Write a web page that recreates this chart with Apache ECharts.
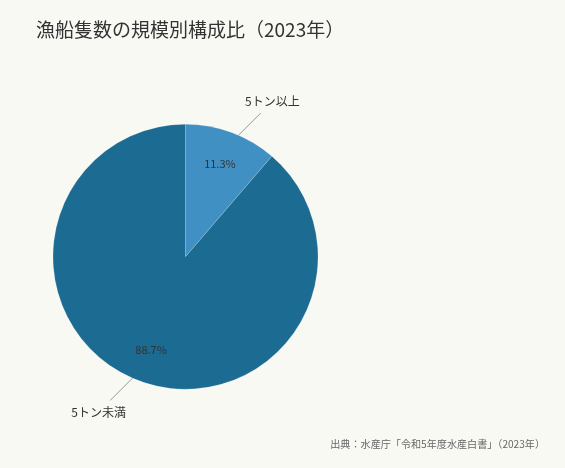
<!DOCTYPE html>
<html>
<head>
<meta charset="utf-8">
<script src="https://cdn.jsdelivr.net/npm/echarts@6/dist/echarts.min.js"></script>
<style>
html,body{margin:0;padding:0;background:#f9f9f4;}
#c{width:565px;height:468px;}
</style>
</head>
<body>
<div id="c"></div>
<script>
const categories = ['5トン以上', '5トン未満'];
const values = [11.3, 88.7];
const colors = ['#4190c4', '#1c6b92'];

const FONT = '"Noto Sans CJK JP", "Noto Sans", sans-serif';
const data = categories.map((c, i) => ({ name: c, value: values[i], itemStyle: { color: colors[i] } }));
const clearData = categories.map((c, i) => ({ name: c, value: values[i], itemStyle: { color: 'rgba(0,0,0,0)' } }));
const center = [185.5, 256.7];
const LEG = 35;   // diagonal leader length (px)
const GAP = 11.5; // text offset beyond leader end

const chart = echarts.init(document.getElementById('c'), null, { renderer: 'canvas' });
chart.setOption({
  backgroundColor: '#f9f9f4',
  animation: false,
  title: [{
    text: '漁船隻数の規模別構成比（2023年）',
    left: 31, top: 15,
    textStyle: { fontFamily: FONT, fontSize: 19, fontWeight: 'normal', color: '#333' }
  }, {
    text: '出典：水産庁「令和5年度水産白書」（2023年）',
    right: 15, top: 434,
    textStyle: { fontFamily: FONT, fontSize: 10.1, fontWeight: 'normal', color: '#666' }
  }],
  series: [{
    type: 'pie',
    center: center,
    radius: [0, 132.5],
    startAngle: 90,
    clockwise: true,
    silent: true,
    itemStyle: { borderColor: 'rgba(255,255,255,0.35)', borderWidth: 0.5 },
    label: { show: false },
    labelLine: { show: false },
    data: data
  }, {
    type: 'pie',
    center: center,
    radius: [80, 112],
    startAngle: 90,
    silent: true,
    label: {
      show: true, position: 'inside',
      formatter: p => p.value.toFixed(1) + '%',
      fontFamily: FONT, fontSize: 11, color: '#333'
    },
    labelLine: { show: false },
    data: clearData
  }, {
    type: 'pie',
    center: center,
    radius: [0, 116],
    startAngle: 90,
    silent: true,
    label: {
      show: true, position: 'outside',
      formatter: '{b}',
      fontFamily: FONT, fontSize: 12, color: '#333',
      distanceToLabelLine: 3
    },
    labelLine: { show: true, length: 48, length2: 0, lineStyle: { color: '#999', width: 1 } },
    labelLayout: function (p) {
      const pts = p.labelLinePoints;
      if (!pts || !pts.length) return {};
      const s = pts[0];
      const sx = pts[pts.length - 1][0] >= s[0] ? 1 : -1;
      const sy = pts[pts.length - 1][1] >= s[1] ? 1 : -1;
      const e = [s[0] + sx * LEG, s[1] + sy * LEG];
      return {
        x: e[0] + sx * GAP, y: e[1] + sy * GAP,
        align: 'center', verticalAlign: 'middle',
        labelLinePoints: [s, e, e]
      };
    },
    data: clearData
  }]
});
</script>
</body>
</html>
